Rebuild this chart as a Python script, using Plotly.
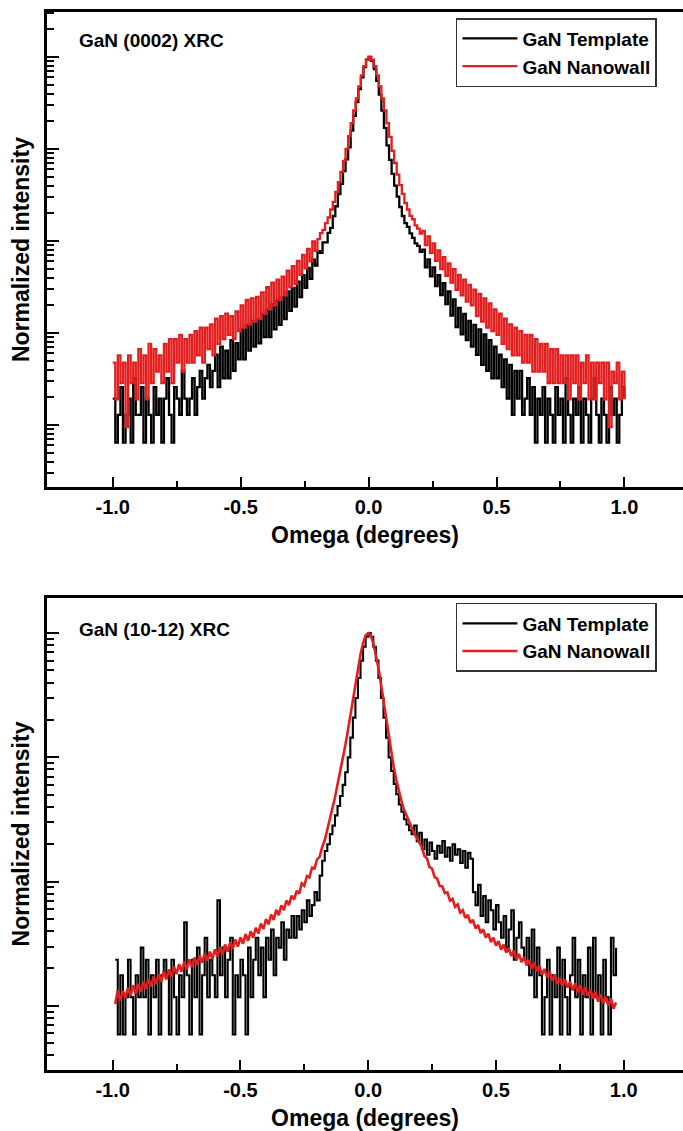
import plotly.graph_objects as go

# ---------------- data ----------------
# omega scan positions (degrees)
TOP_OMEGA = [round(-1.0 + 0.01 * i, 2) for i in range(201)]
BOT_OMEGA = [round(-0.99 + 0.01 * i, 2) for i in range(197)]

# GaN (0002) XRC, detector counts
TOP_TEMPLATE_COUNTS = [
    3, 1, 2, 4, 1, 2, 3, 1, 5, 2,
    2, 4, 1, 3, 2, 1, 4, 2, 3, 1,
    3, 5, 2, 1, 4, 3, 2, 6, 3, 2,
    3, 5, 2, 4, 6, 3, 5, 7, 4, 6,
    9, 4, 11, 5, 10, 5, 13, 6, 12, 8,
    17, 8, 19, 10, 21, 11, 22, 12, 25, 14,
    28, 14, 32, 17, 35, 19, 38, 22, 44, 27,
    48, 30, 56, 38, 66, 48, 79, 60, 97, 84,
    120, 115, 150, 150, 190, 215, 290, 370, 500, 650,
    890, 1200, 1620, 2450, 3550, 5020, 6920, 9340, 12000, 14470,
    15500,
    14110, 11480, 8520, 6030, 4060, 2630, 1700, 1180, 830, 620,
    470, 363, 290, 243, 221, 188, 168, 146, 137, 118,
    125, 80, 98, 64, 80, 50, 66, 40, 54, 32,
    44, 24, 36, 18, 29, 15, 25, 13, 21, 11,
    19, 9, 17, 7, 15, 6, 13, 5, 11, 5,
    9, 4, 8, 3, 7, 2, 6, 3, 6, 2,
    3, 5, 2, 4, 1, 3, 2, 4, 1, 3,
    2, 1, 4, 2, 3, 1, 5, 2, 1, 3,
    2, 4, 1, 3, 2, 1, 3, 5, 2, 1,
    3, 2, 1, 4, 2, 3, 1, 2, 4, 3,
]
TOP_NANOWALL_COUNTS = [
    5, 2, 6, 3, 5, 1, 6, 3, 5, 2,
    7, 3, 6, 2, 8, 3, 7, 4, 6, 3,
    8, 4, 9, 3, 9, 5, 10, 4, 9, 5,
    10, 5, 11, 6, 12, 5, 12, 7, 13, 6,
    15, 8, 16, 9, 17, 10, 16, 9, 18, 11,
    21, 12, 24, 13, 25, 14, 26, 15, 29, 17,
    33, 19, 37, 21, 40, 24, 43, 27, 50, 33,
    56, 36, 64, 45, 74, 53, 86, 63, 104, 82,
    110, 128, 139, 164, 189, 231, 280, 358, 458, 592,
    780, 1050, 1450, 2000, 2760, 3730, 5030, 6630, 8350, 9800,
    10500,
    9800, 8350, 6630, 5030, 3730, 2760, 2000, 1420, 1000, 740,
    552, 425, 341, 272, 231, 197, 181, 155, 143, 126,
    135, 95, 118, 78, 99, 64, 83, 52, 70, 44,
    60, 37, 52, 31, 45, 27, 40, 23, 35, 21,
    31, 16, 28, 14, 25, 12, 22, 11, 19, 10,
    17, 8, 15, 7, 13, 6, 12, 6, 11, 5,
    10, 5, 10, 4, 9, 4, 8, 4, 8, 3,
    7, 3, 7, 3, 6, 3, 6, 2, 6, 3,
    6, 2, 5, 3, 6, 2, 5, 2, 5, 3,
    5, 2, 5, 1, 4, 3, 5, 2, 4, 2,
]

# GaN (10-12) XRC, detector counts
BOT_TEMPLATE_COUNTS = [
    4, 1, 3, 1, 2, 4, 2, 1, 3, 2,
    5, 2, 4, 1, 3, 2, 4, 1, 3, 4,
    3, 1, 4, 2, 1, 3, 2, 8, 3, 1,
    4, 2, 5, 1, 3, 6, 2, 4, 3, 2,
    12, 3, 5, 2, 4, 6, 1, 3, 2, 4,
    3, 1, 5, 2, 4, 6, 3, 5, 2, 6,
    4, 7, 3, 6, 5, 8, 4, 7, 6, 9,
    6, 9, 7, 10, 8, 12, 9, 11, 14, 12,
    19, 25, 30, 34, 41, 48, 58, 69, 83,
    102, 129, 170, 245, 355, 510, 740, 1020, 1320, 1590,
    1700,
    1590, 1320, 1020, 740, 510, 355, 245, 170, 132, 104,
    86, 71, 62, 54, 49, 44, 41, 48, 36, 42,
    31, 37, 28, 35, 30, 26, 33, 29, 36, 27,
    32, 25, 34, 28, 31, 24, 30, 22, 29, 26,
    14, 11, 16, 9, 13, 8, 12, 10, 7, 11,
    8, 6, 9, 5, 7, 10, 4, 6, 8, 5,
    4, 6, 3, 7, 2, 5, 3, 1, 2, 4,
    1, 3, 2, 5, 1, 4, 2, 1, 3, 6,
    2, 4, 1, 3, 2, 5, 1, 6, 2, 3,
    1, 4, 2, 1, 6, 3, 5,
]
BOT_NANOWALL_COUNTS = [
    62, 80, 66, 79, 70, 84, 72, 88, 75, 90,
    78, 94, 82, 99, 86, 103, 90, 108, 94, 113,
    98, 118, 103, 124, 108, 130, 113, 136, 118, 142,
    123, 147, 128, 153, 133, 159, 139, 164, 143, 171,
    150, 178, 156, 187, 164, 195, 172, 205, 180, 214,
    190, 227, 200, 239, 212, 255, 229, 276, 249, 300,
    272, 326, 295, 355, 322, 386, 353, 423, 388, 463,
    430, 506, 480, 580, 555, 664, 648, 778, 765, 905,
    950, 1140, 1290, 1570, 1830, 2300, 2850, 3640, 4530,
    5730, 7390, 9740, 13130, 17700, 23890, 31490, 40570, 49910, 57300,
    60000,
    57300, 49910, 40570, 31490, 23350, 17260, 12540, 9080, 6580, 4990,
    3960, 3220, 2680, 2280, 2030, 1810, 1650, 1470, 1340, 1225,
    1140, 965, 925, 785, 762, 652, 633, 553, 551, 484,
    492, 421, 436, 376, 394, 338, 354, 306, 324, 279,
    295, 252, 269, 231, 248, 213, 229, 196, 212, 183,
    199, 170, 187, 161, 176, 151, 167, 142, 157, 135,
    148, 127, 140, 120, 133, 114, 126, 107, 119, 102,
    113, 96, 106, 90, 101, 87, 98, 84, 94, 80,
    91, 77, 88, 74, 85, 72, 81, 69, 78, 65,
    74, 63, 71, 60, 69, 57, 64,
]

SERIES_NAMES = ["GaN Template", "GaN Nanowall"]
PANEL_TITLES = ["GaN (0002) XRC", "GaN (10-12) XRC"]
X_TICKS = [-1.0, -0.5, 0.0, 0.5, 1.0]
X_TICK_LABELS = ["-1.0", "-0.5", "0.0", "0.5", "1.0"]
X_MINOR_TICKS = [-0.75, -0.25, 0.25, 0.75]

BLACK = "#000000"
RED = "#e31e1e"
FONT = "Liberation Sans, Arial, sans-serif"


def normalize(counts):
    peak = max(counts)
    return [c / peak for c in counts]


fig = go.Figure()

# top panel
fig.add_trace(go.Scatter(x=TOP_OMEGA, y=normalize(TOP_TEMPLATE_COUNTS), name=SERIES_NAMES[0],
                         mode="lines", line=dict(color=BLACK, width=2.3, shape="hv"),
                         xaxis="x", yaxis="y", legend="legend", legendgroup="a"))
fig.add_trace(go.Scatter(x=TOP_OMEGA, y=normalize(TOP_NANOWALL_COUNTS), name=SERIES_NAMES[1],
                         mode="lines", line=dict(color=RED, width=2.3, shape="hv"),
                         xaxis="x", yaxis="y", legend="legend", legendgroup="b"))
# bottom panel
fig.add_trace(go.Scatter(x=BOT_OMEGA, y=normalize(BOT_TEMPLATE_COUNTS), name=SERIES_NAMES[0],
                         mode="lines", line=dict(color=BLACK, width=2.1, shape="hv"),
                         xaxis="x2", yaxis="y2", legend="legend2", legendgroup="c"))
fig.add_trace(go.Scatter(x=BOT_OMEGA, y=normalize(BOT_NANOWALL_COUNTS), name=SERIES_NAMES[1],
                         mode="lines", line=dict(color=RED, width=2.6),
                         xaxis="x2", yaxis="y2", legend="legend2", legendgroup="d"))

decades = [10.0 ** d for d in range(-6, 2)]
minor_vals = [m * 10.0 ** d for d in range(-6, 1) for m in range(2, 10)]

xcommon = dict(
    tickmode="array", tickvals=X_TICKS, ticktext=X_TICK_LABELS,
    ticks="inside", ticklen=10, tickwidth=2, tickcolor=BLACK,
    minor=dict(tickmode="array", tickvals=X_MINOR_TICKS, ticks="inside",
               ticklen=6, tickwidth=2, tickcolor=BLACK, showgrid=False),
    showline=True, linewidth=2.5, linecolor=BLACK, mirror=True,
    showgrid=False, zeroline=False,
    tickfont=dict(family=FONT, size=20, color=BLACK, weight="bold"),
    ticklabelstandoff=0,
    title=dict(text="Omega (degrees)", standoff=11,
               font=dict(family=FONT, size=23, color=BLACK, weight="bold")),
)
ycommon = dict(
    type="log", tickmode="array", tickvals=decades,
    ticks="inside", ticklen=12, tickwidth=2, tickcolor=BLACK,
    minor=dict(tickmode="array", tickvals=minor_vals, ticks="inside",
               ticklen=7, tickwidth=1.5, tickcolor=BLACK, showgrid=False),
    showticklabels=False, showline=True, linewidth=2.5, linecolor=BLACK,
    mirror=False, showgrid=False, zeroline=False,
    title=dict(text="Normalized intensity", standoff=9,
               font=dict(family=FONT, size=23, color=BLACK, weight="bold")),
)

legend_common = dict(
    xanchor="left", yanchor="top", bgcolor="white",
    bordercolor="#333333", borderwidth=1.5,
    font=dict(family=FONT, size=19, color=BLACK, weight="bold"),
    traceorder="grouped", tracegroupgap=0, itemwidth=55,
    entrywidth=205, entrywidthmode="pixels",
)

fig.update_layout(
    width=683, height=1131,
    margin=dict(l=47, r=0, t=12, b=61),
    paper_bgcolor="white", plot_bgcolor="white",
    font=dict(family=FONT, color=BLACK),
    xaxis=dict(domain=[0, 1], anchor="y", range=[-1.257, 1.229], **xcommon),
    yaxis=dict(domain=[0.551, 1], anchor="x", range=[-4.674, 0.489], **ycommon),
    xaxis2=dict(domain=[0, 1], anchor="y2", range=[-1.257, 1.232], **xcommon),
    yaxis2=dict(domain=[0, 0.4461], anchor="x2", range=[-3.516, 0.282], **ycommon),
    legend=dict(x=0.643, y=0.9943, **legend_common),
    legend2=dict(x=0.643, y=0.4414, **legend_common),
    annotations=[
        dict(text=PANEL_TITLES[0], xref="x domain", yref="y domain", x=0.047, y=0.939,
             xanchor="left", yanchor="middle", showarrow=False,
             font=dict(family=FONT, size=19, color=BLACK, weight="bold")),
        dict(text=PANEL_TITLES[1], xref="x2 domain", yref="y2 domain", x=0.047, y=0.933,
             xanchor="left", yanchor="middle", showarrow=False,
             font=dict(family=FONT, size=19, color=BLACK, weight="bold")),
    ],
)

fig.write_html("out.html", config={"displayModeBar": False},
               post_script="document.body.style.margin='0';document.body.style.overflow='hidden';")
